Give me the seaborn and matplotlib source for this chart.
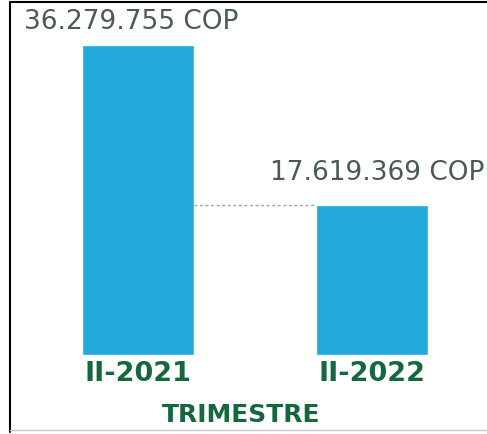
import matplotlib
matplotlib.use("Agg")
import matplotlib.pyplot as plt
import seaborn as sns
import pandas as pd

# data
trimestres = ["II-2021", "II-2022"]
valores = [36279755, 17619369]
etiquetas = ["36.279.755 COP", "17.619.369 COP"]

bar_color = "#21a9dc"
green = "#16683c"
text_gray = "#4a5959"

sns.set_style("white")
plt.rcParams["font.family"] = ["DejaVu Sans"]

df = pd.DataFrame({"trimestre": trimestres, "valor": valores})

fig = plt.figure(figsize=(4.87, 4.34), dpi=100)
ax = fig.add_axes([0.0431, 0.182, 0.961, 0.714])

bar_w = 0.479
sns.barplot(data=df, x="trimestre", y="valor", color=bar_color,
            saturation=1, width=bar_w, ax=ax)
ax.set_xlim(-0.5, 1.5)
ax.set_ylim(0, valores[0])

# dotted reference line between the bars
ax.plot([0 + bar_w / 2, 1 - bar_w / 2], [valores[1], valores[1]],
        color="#9aa5a5", lw=1, ls=(0, (2, 2)))

# value labels (offsets in points)
offsets = [(-5, 7), (4, 13)]
for i, (v, lab) in enumerate(zip(valores, etiquetas)):
    ax.annotate(lab, (i, v), xytext=offsets[i], textcoords="offset points",
                ha="center", va="bottom", fontsize=19, fontweight="normal",
                color=text_gray, annotation_clip=False)

ax.set_yticks([])
ax.set_xticks([0, 1])
ax.set_xticklabels(trimestres, fontsize=19.5, fontweight="bold", color=green)
ax.tick_params(axis="x", length=0, pad=4)
ax.set_xlabel("")
ax.set_ylabel("")
sns.despine(ax=ax, left=True, bottom=True)

fig.text(241 / 487, 1 - 415 / 434, "TRIMESTRE", ha="center", va="center",
         fontsize=18, fontweight="bold", color=green)

# frame lines of the original picture
fig.add_artist(plt.Line2D([10 / 487, 10 / 487], [0.005, 1 - 2 / 434],
                          color="black", lw=1.5, transform=fig.transFigure))
fig.add_artist(plt.Line2D([10 / 487, 1.0], [1 - 2 / 434, 1 - 2 / 434],
                          color="black", lw=1.5, transform=fig.transFigure))
fig.add_artist(plt.Line2D([10 / 487, 1.0], [4 / 434, 4 / 434],
                          color="#c8c8c8", lw=1, transform=fig.transFigure))

fig.savefig("out.png", dpi=100)
